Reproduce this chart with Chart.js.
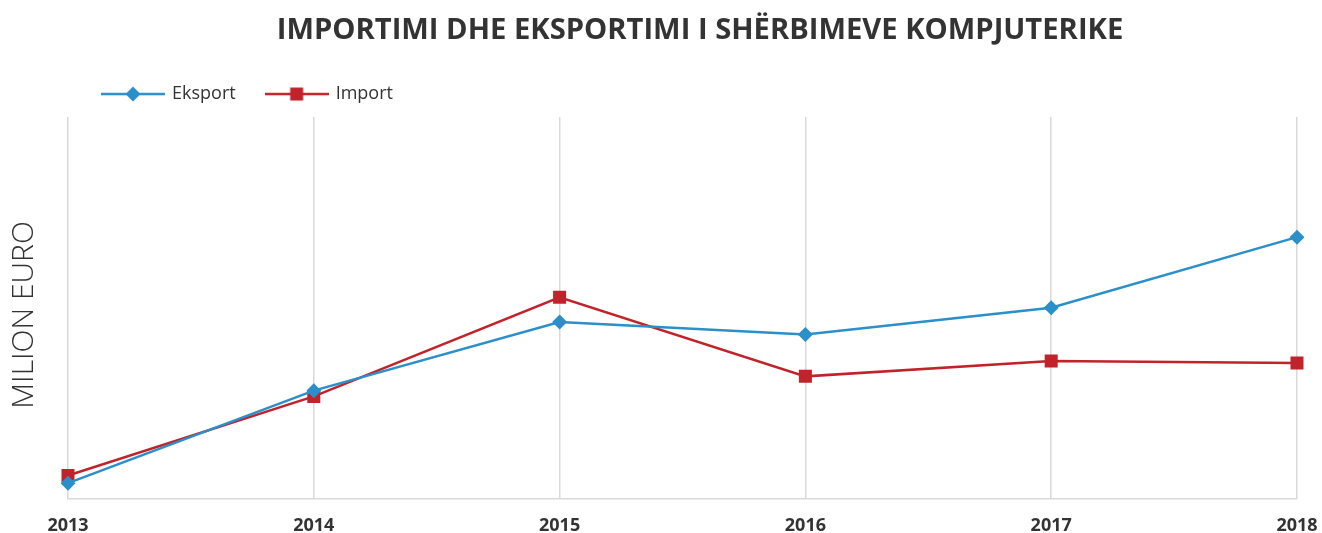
<!DOCTYPE html>
<html>
<head>
<meta charset="utf-8">
<script src="https://cdn.jsdelivr.net/npm/chart.js@4/dist/chart.umd.min.js"></script>
<style>
  html, body { margin: 0; padding: 0; background: #ffffff; }
  #wrap { width: 1322px; height: 533px; position: relative; }
  canvas { display: block; }
</style>
</head>
<body>
<div id="wrap"><canvas id="c" width="1322" height="533"></canvas></div>
<script>
const TITLE = 'IMPORTIMI DHE EKSPORTIMI I SHËRBIMEVE KOMPJUTERIKE';
const Y_TITLE = 'MILION EURO';
const years = ['2013', '2014', '2015', '2016', '2017', '2018'];
const eksport = [1.6, 11.3, 18.5, 17.2, 20.0, 27.4];
const importV = [2.4, 10.7, 21.1, 12.8, 14.4, 14.2];

const BLUE = '#2b8fca';
const RED = '#c1232b';
const TEXT = '#333333';
const GRID = '#d9d9d9';

function legendIcon(color, shape) {
  const c = document.createElement('canvas');
  c.width = 64; c.height = 18;
  const x = c.getContext('2d');
  x.strokeStyle = color; x.lineWidth = 2.5;
  x.beginPath(); x.moveTo(0, 9); x.lineTo(64, 9); x.stroke();
  x.fillStyle = color;
  x.beginPath();
  if (shape === 'diamond') {
    x.moveTo(32, 1.5); x.lineTo(39.5, 9); x.lineTo(32, 16.5); x.lineTo(24.5, 9); x.closePath();
  } else {
    x.rect(25.5, 2.5, 13, 13);
  }
  x.fill();
  return c;
}
const iconE = legendIcon(BLUE, 'diamond');
const iconI = legendIcon(RED, 'square');

const layoutPlugin = {
  id: 'layoutTweaks',
  beforeLayout(chart) {
    const l = chart.legend;
    if (l && !l._patched) {
      const f = l.fit.bind(l);
      l.fit = function () { f(); this.height += 4; };
      l._patched = true;
    }
  },
  afterLayout(chart) {
    const t = chart.titleBlock;
    if (t) { const d = 700 - (t.left + t.right) / 2; t.left += d; t.right += d; }
    const l = chart.legend;
    if (l) { const d = 72 - l.left; l.left += d; l.right += d; }
  },
  afterDraw(chart) {
    const ctx = chart.ctx;
    ctx.save();
    ctx.translate(24, 315);
    ctx.rotate(-Math.PI / 2);
    ctx.font = '300 30px "Open Sans", sans-serif';
    ctx.fillStyle = TEXT;
    ctx.textAlign = 'center';
    ctx.textBaseline = 'middle';
    ctx.fillText(Y_TITLE, 0, 0);
    ctx.restore();
  }
};

new Chart(document.getElementById('c'), {
  type: 'line',
  data: {
    labels: years,
    datasets: [
      {
        label: 'Eksport',
        data: eksport,
        borderColor: BLUE,
        backgroundColor: BLUE,
        borderWidth: 2.5,
        pointStyle: 'rectRot',
        pointRadius: 7.5,
        pointHoverRadius: 7.5,
        pointBorderWidth: 0,
        tension: 0
      },
      {
        label: 'Import',
        data: importV,
        borderColor: RED,
        backgroundColor: RED,
        borderWidth: 2.5,
        pointStyle: 'rect',
        pointRadius: 9.2,
        pointHoverRadius: 9.2,
        pointBorderWidth: 0,
        tension: 0
      }
    ]
  },
  options: {
    responsive: false,
    animation: false,
    events: [],
    layout: { padding: { left: 0, right: 25, top: 0, bottom: -21 } },
    plugins: {
      title: {
        display: true,
        text: TITLE,
        color: TEXT,
        font: { family: '"Open Sans", sans-serif', size: 29.2, weight: 'bold' },
        padding: { top: 13, bottom: 6 }
      },
      legend: {
        display: true,
        position: 'top',
        align: 'start',
        labels: {
          usePointStyle: true,
          pointStyleWidth: 60,
          padding: 31,
          color: TEXT,
          font: { family: '"Open Sans", sans-serif', size: 18 },
          generateLabels(chart) {
            return [
              { text: 'Eksport', pointStyle: iconE, fillStyle: BLUE, strokeStyle: BLUE, lineWidth: 0, datasetIndex: 0, fontColor: TEXT },
              { text: 'Import', pointStyle: iconI, fillStyle: RED, strokeStyle: RED, lineWidth: 0, datasetIndex: 1, fontColor: TEXT }
            ];
          }
        }
      },
      tooltip: { enabled: false }
    },
    scales: {
      x: {
        offset: false,
        grid: { display: true, color: GRID, lineWidth: 1.5, drawTicks: false },
        border: { display: true, color: GRID, width: 1.5 },
        ticks: {
          color: TEXT,
          padding: 17,
          maxRotation: 0,
          font: { family: '"Open Sans", sans-serif', size: 18, weight: 'bold' }
        },
        afterFit(scale) { scale.paddingLeft = 0; scale.paddingRight = 0; }
      },
      y: {
        min: 0,
        max: 40,
        grid: { display: false, drawTicks: false },
        border: { display: false },
        ticks: { display: false },
        title: { display: false },
        afterFit(scale) { scale.width = 68; }
      }
    }
  },
  plugins: [layoutPlugin]
});
</script>
</body>
</html>
